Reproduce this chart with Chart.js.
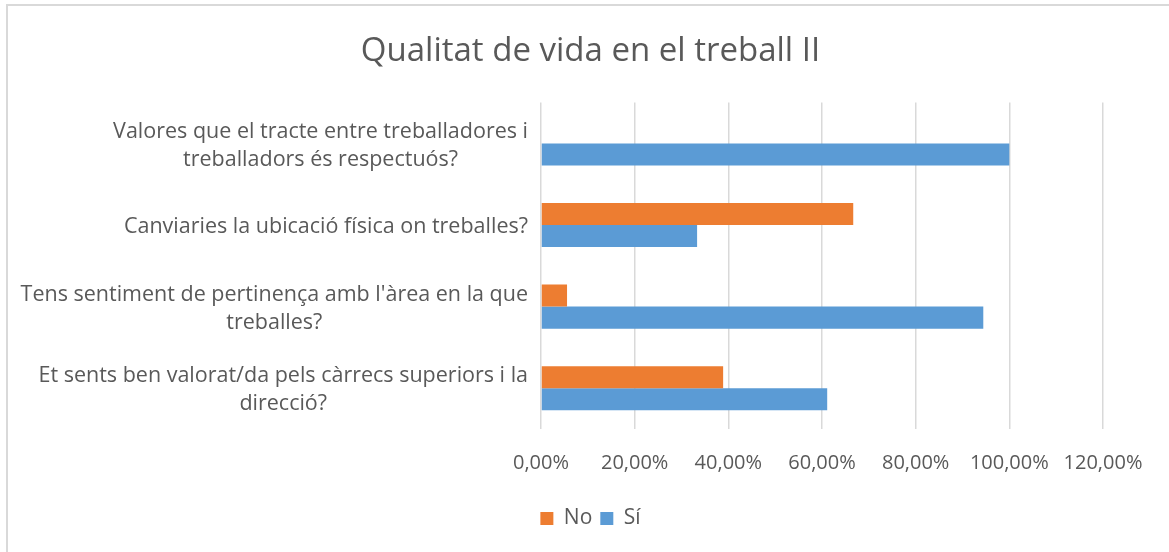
<!DOCTYPE html>
<html>
<head>
<meta charset="utf-8">
<script src="https://cdn.jsdelivr.net/npm/chart.js@4"></script>
<style>
  html, body { margin: 0; padding: 0; background: #fff; overflow: hidden; }
  #wrap { position: relative; width: 1169px; height: 552px; }
  #frame { position: absolute; left: 6px; top: 4px; width: 1170px; height: 560px; border: 2px solid #d9d9d9; box-sizing: border-box; }
  #qualitatChart { position: absolute; left: 0; top: 0; }
</style>
</head>
<body>
<div id="wrap">
  <div id="frame"></div>
  <canvas id="qualitatChart" width="1169" height="552"></canvas>
</div>
<script>
// preguntes (de dalt a baix)
const categories = [
  ['Valores que el tracte entre treballadores i', 'treballadors és respectuós?'],
  ['Canviaries la ubicació física on treballes?'],
  ["Tens sentiment de pertinença amb l'àrea en la que", 'treballes?'],
  ['Et sents ben valorat/da pels càrrecs superiors i la', 'direcció?']
];

// percentatges
const noValues = [0, 66.67, 5.56, 38.89];
const siValues = [100, 33.33, 94.44, 61.11];

const xTicks = [0, 20, 40, 60, 80, 100, 120];

const FONT = "'Open Sans', sans-serif";
const TEXT_COLOR = '#595959';

// etiquetes de l'eix Y: línies centrades, bloc alineat a la dreta
const categoryLabels = {
  id: 'categoryLabels',
  afterDraw(chart) {
    const ctx = chart.ctx;
    const yScale = chart.scales.y;
    const right = chart.chartArea.left - 13;
    const lineH = 28;
    ctx.save();
    ctx.font = '21.5px ' + FONT;
    ctx.fillStyle = TEXT_COLOR;
    ctx.textAlign = 'center';
    ctx.textBaseline = 'middle';
    categories.forEach((lines, i) => {
      const y = yScale.getPixelForTick(i) + 2;
      const widest = Math.max(...lines.map(l => ctx.measureText(l).width));
      const cx = right - widest / 2;
      lines.forEach((line, j) => {
        ctx.fillText(line, cx, y + (j - (lines.length - 1) / 2) * lineH);
      });
    });
    ctx.restore();
  }
};

const chart = new Chart(document.getElementById('qualitatChart'), {
  type: 'bar',
  data: {
    labels: categories,
    datasets: [
      { label: 'No', data: noValues, backgroundColor: '#ed7d31' },
      { label: 'Sí', data: siValues, backgroundColor: '#5b9bd5' }
    ]
  },
  options: {
    indexAxis: 'y',
    responsive: false,
    animation: false,
    datasets: {
      bar: { categoryPercentage: 0.54, barPercentage: 1.0 }
    },
    layout: {
      padding: { left: 12, right: 0, top: 0, bottom: 13 }
    },
    plugins: {
      title: {
        display: true,
        text: 'Qualitat de vida en el treball II',
        color: TEXT_COLOR,
        font: { size: 33, family: FONT, weight: 'normal' },
        padding: { top: 32, bottom: 31 }
      },
      legend: {
        position: 'bottom',
        labels: {
          color: TEXT_COLOR,
          font: { size: 21, family: FONT },
          boxWidth: 13,
          boxHeight: 13,
          padding: 8
        }
      },
      tooltip: { enabled: false }
    },
    scales: {
      x: {
        min: 0,
        max: 120,
        afterBuildTicks: scale => {
          scale.ticks = xTicks.map(v => ({ value: v }));
        },
        afterFit: scale => { scale.height = 71; },
        grid: { color: '#d9d9d9', lineWidth: 1.5, drawTicks: false },
        border: { display: false },
        ticks: {
          color: TEXT_COLOR,
          font: { size: 20, family: FONT },
          padding: 22,
          maxRotation: 0,
          callback: value => value.toFixed(2).replace('.', ',') + '%'
        }
      },
      y: {
        afterFit: scale => { scale.width = 529; },
        grid: { display: false },
        border: { display: false },
        ticks: { display: false }
      },
      // eix buit a la dreta, només per deixar marge
      yRight: {
        position: 'right',
        afterFit: scale => { scale.width = 66; },
        grid: { display: false },
        border: { display: false },
        ticks: { display: false }
      }
    }
  },
  plugins: [categoryLabels]
});
</script>
</body>
</html>
